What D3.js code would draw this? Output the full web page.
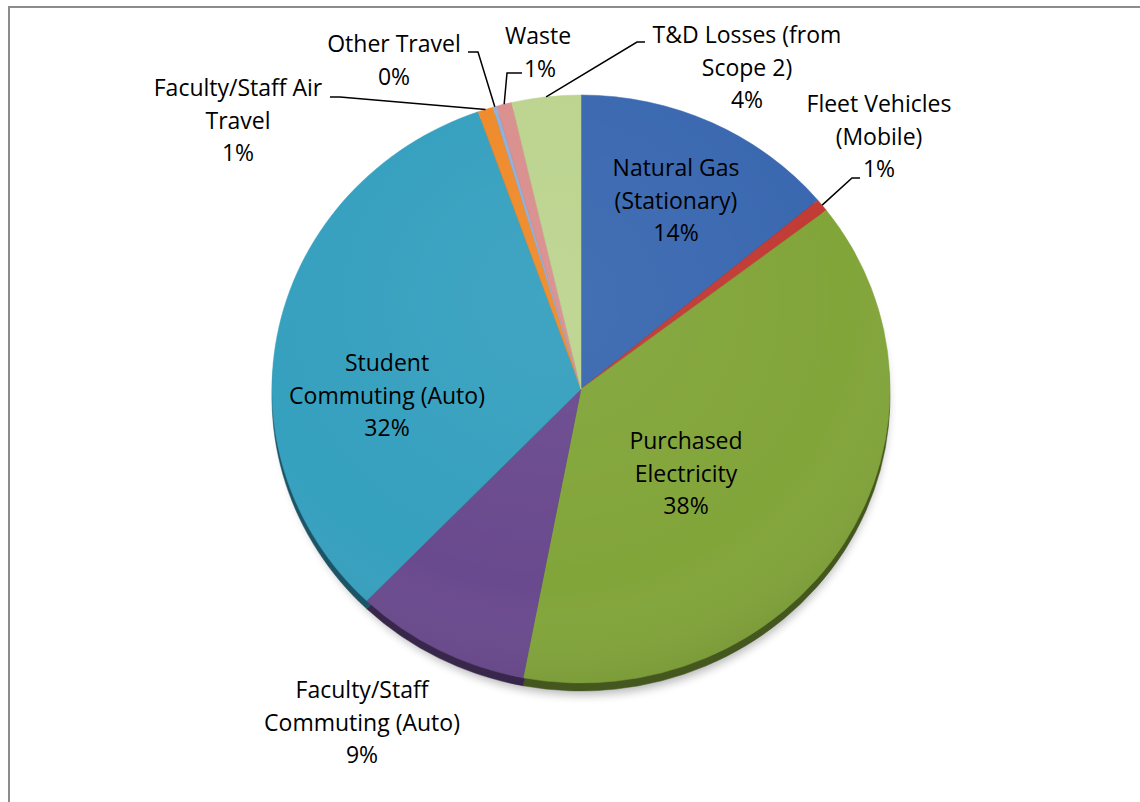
<!DOCTYPE html>
<html>
<head>
<meta charset="utf-8">
<script src="https://cdn.jsdelivr.net/npm/d3@7"></script>
<style>
  html, body { margin: 0; padding: 0; background: #fff; }
  svg { display: block; }
  text { font-family: "Open Sans", Lato, sans-serif; font-size: 23px; fill: #000; }
</style>
</head>
<body>
<svg id="chart" width="1140" height="802"></svg>
<script>
// Emission sources, clockwise from 12 o'clock
const categories = [
  "Natural Gas (Stationary)",
  "Fleet Vehicles (Mobile)",
  "Purchased Electricity",
  "Faculty/Staff Commuting (Auto)",
  "Student Commuting (Auto)",
  "Faculty/Staff Air Travel",
  "Other Travel",
  "Waste",
  "T&D Losses (from Scope 2)"
];
// share of total emissions, percent
const shares = [13.9, 0.7, 38.4, 9.2, 32.4, 0.8, 0.2, 0.8, 3.6];
// label lines for each slice (the percentage line is appended)
const labelLines = [
  ["Natural Gas", "(Stationary)"],
  ["Fleet Vehicles", "(Mobile)"],
  ["Purchased", "Electricity"],
  ["Faculty/Staff", "Commuting (Auto)"],
  ["Student", "Commuting (Auto)"],
  ["Faculty/Staff Air", "Travel"],
  ["Other Travel"],
  ["Waste"],
  ["T&D Losses (from", "Scope 2)"]
];
const colors = ["#3a68b0", "#c23b35", "#82a53a", "#6a4a8e", "#36a0bf", "#ef8a2a", "#8fb0dc", "#d98f8e", "#bcd48f"];

// ---- layout ----
const W = 1140, H = 802;
const cx = 581, cy = 389, rx = 309, ry = 294, depth = 8;
const lineH = 32.5;
// label block placement: [center x, y of first line] and optional leader path elbows
const labelLayout = [
  { x: 676, y: 168 },
  { x: 879, y: 104, leader: [[852, 178], [860, 178]] },
  { x: 686, y: 441 },
  { x: 362, y: 690 },
  { x: 387, y: 363 },
  { x: 238, y: 88, leader: [[340, 97], [330, 97]] },
  { x: 394, y: 44, leader: [[478, 52], [468, 52]] },
  { x: 538, y: 36, pctX: 540, leader: [[507, 73], [522, 73]] },
  { x: 747, y: 35, leader: [[637, 42], [645, 42]] }
];

const svg = d3.select("#chart");
const defs = svg.append("defs");

// soft shadow under the pie
const blur = defs.append("filter").attr("id", "shadow")
  .attr("x", "-20%").attr("y", "-20%").attr("width", "140%").attr("height", "140%");
blur.append("feGaussianBlur").attr("stdDeviation", 5);

// light falloff across the top face
const shade = defs.append("radialGradient").attr("id", "shade")
  .attr("cx", "45%").attr("cy", "35%").attr("r", "70%");
shade.append("stop").attr("offset", "0%").attr("stop-color", "#fff").attr("stop-opacity", 0.05);
shade.append("stop").attr("offset", "70%").attr("stop-color", "#fff").attr("stop-opacity", 0);
shade.append("stop").attr("offset", "100%").attr("stop-color", "#000").attr("stop-opacity", 0.1);

// chart frame
svg.append("rect")
  .attr("x", 9).attr("y", 7).attr("width", W + 50).attr("height", H + 50)
  .attr("fill", "none").attr("stroke", "#8c8c8c").attr("stroke-width", 2);

const pie = d3.pie().sort(null).value(d => d)(shares);
const arc = d3.arc().innerRadius(0).outerRadius(rx);
const sy = ry / rx;

// shadow
svg.append("ellipse")
  .attr("cx", cx + 2).attr("cy", cy + depth + 6).attr("rx", rx - 4).attr("ry", ry - 2)
  .attr("fill", "#000").attr("opacity", 0.28).attr("filter", "url(#shadow)");

// side wall: the pie repeated lower in darker tones
svg.append("g")
  .attr("transform", `translate(${cx},${cy + depth}) scale(1,${sy})`)
  .selectAll("path").data(pie).join("path")
  .attr("d", arc)
  .attr("fill", (d, i) => d3.color(colors[i]).darker(1.8))
  .attr("stroke", (d, i) => d3.color(colors[i]).darker(1.8))
  .attr("stroke-width", 0.5);

// top face
const topFace = svg.append("g")
  .attr("transform", `translate(${cx},${cy}) scale(1,${sy})`);
topFace.selectAll("path").data(pie).join("path")
  .attr("d", arc)
  .attr("fill", (d, i) => colors[i])
  .attr("stroke", (d, i) => colors[i])
  .attr("stroke-width", 0.5);
topFace.append("circle").attr("r", rx).attr("fill", "url(#shade)");

// point on the rim at a slice's middle angle
function rimPoint(d) {
  const a = (d.startAngle + d.endAngle) / 2;
  return [cx + rx * Math.sin(a), cy - ry * Math.cos(a)];
}

// leader lines
const leaders = svg.append("g").attr("fill", "none").attr("stroke", "#000").attr("stroke-width", 1.5);
pie.forEach((d, i) => {
  const L = labelLayout[i];
  if (!L.leader) return;
  leaders.append("path").attr("d", d3.line()([rimPoint(d), ...L.leader]));
});

// labels
const labels = svg.append("g").attr("text-anchor", "middle");
pie.forEach((d, i) => {
  const L = labelLayout[i];
  const lines = labelLines[i].concat([Math.round(shares[i]) + "%"]);
  lines.forEach((t, k) => {
    const isPct = k === lines.length - 1;
    labels.append("text")
      .attr("x", isPct && L.pctX ? L.pctX : L.x)
      .attr("y", L.y + k * lineH)
      .attr("dy", "0.35em")
      .text(t);
  });
});
</script>
</body>
</html>
